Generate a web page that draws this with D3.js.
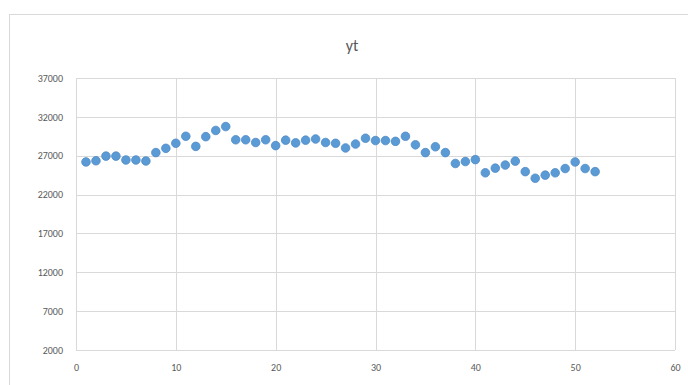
<!DOCTYPE html>
<html><head><meta charset="utf-8">
<script src="https://cdn.jsdelivr.net/npm/d3@7"></script>
<style>body{margin:0;background:#fff}svg{display:block}</style>
</head><body>
<script>
const title = "yt";
const xValues = d3.range(1, 53);
const yValues = [26200,26350,26950,26950,26450,26450,26320,27400,27950,28600,29500,28200,29450,30250,30750,29050,29050,28700,29050,28300,29000,28650,29000,29150,28700,28600,28000,28500,29250,28950,28950,28850,29500,28400,27400,28150,27400,26000,26250,26500,24800,25400,25800,26300,24950,24100,24500,24800,25350,26200,25350,24950];
const xTicks = [0,10,20,30,40,50,60];
const yTicks = [2000,7000,12000,17000,22000,27000,32000,37000];

const W = 688, H = 385;
const svg = d3.select("body").append("svg").attr("width", W).attr("height", H);
svg.append("rect").attr("x",9.5).attr("y",14.5).attr("width",W).attr("height",H)
  .attr("fill","#fff").attr("stroke","#d9d9d9");

const x = d3.scaleLinear().domain([0,60]).range([76,675]);
const y = d3.scaleLinear().domain([2000,37000]).range([350,78]);

const font = "Calibri, Carlito, 'Liberation Sans', Arial, sans-serif";
svg.append("g").selectAll("line").data(yTicks).join("line")
  .attr("x1",x(0)).attr("x2",x(60)).attr("y1",d=>Math.round(y(d))+0.5).attr("y2",d=>Math.round(y(d))+0.5)
  .attr("stroke","#d9d9d9");
svg.append("g").selectAll("line").data(xTicks).join("line")
  .attr("y1",y(2000)).attr("y2",y(37000)).attr("x1",d=>Math.round(x(d))+0.5).attr("x2",d=>Math.round(x(d))+0.5)
  .attr("stroke","#d9d9d9");

const yAxis = d3.axisLeft(y).tickValues(yTicks).tickSize(0).tickPadding(13).tickFormat(d3.format("d"));
const gy = svg.append("g").attr("transform",`translate(${x(0)},0)`).call(yAxis);
gy.select(".domain").remove();
gy.selectAll("text").attr("fill","#595959").attr("font-size","10px").attr("font-family",font);

const xAxis = d3.axisBottom(x).tickValues(xTicks).tickSize(0).tickPadding(14).tickFormat(d3.format("d"));
const gx = svg.append("g").attr("transform",`translate(0,${y(2000)})`).call(xAxis);
gx.select(".domain").remove();
gx.selectAll("text").attr("fill","#595959").attr("font-size","10px").attr("font-family",font);

svg.append("text").attr("x",352).attr("y",51).attr("text-anchor","middle")
  .attr("fill","#595959").attr("font-size","16px").attr("font-family",font).text(title);

svg.append("g").selectAll("circle").data(xValues).join("circle")
  .attr("cx",(d)=>x(d)).attr("cy",(d,i)=>y(yValues[i])).attr("r",4.3)
  .attr("fill","#5b9bd5").attr("stroke","#4f8ac6").attr("stroke-width",0.8);
</script>
</body></html>
